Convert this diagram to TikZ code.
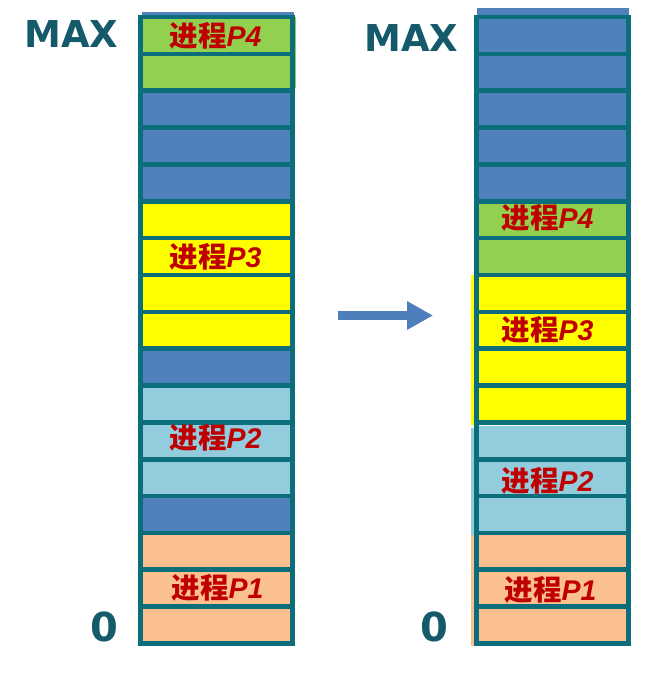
\documentclass[tikz,border=0pt]{standalone}
\usepackage{fontspec}
\usetikzlibrary{arrows.meta}
\newfontfamily\cjk{Noto Sans CJK SC}
\newfontfamily\latb{Liberation Sans}
\newfontfamily\maxf{DejaVu Sans}
\definecolor{cb}{HTML}{4F81BD}
\definecolor{cg}{HTML}{92D050}
\definecolor{cy}{HTML}{FFFF00}
\definecolor{cl}{HTML}{93CDDD}
\definecolor{co}{HTML}{FAC090}
\definecolor{teal0}{HTML}{0C6E7A}
\definecolor{dteal}{HTML}{155A6A}
\definecolor{red0}{HTML}{C00000}
\definecolor{arr}{HTML}{4F7EBD}
\begin{document}
\begin{tikzpicture}[x=1pt,y=-1pt,
  cell/.style={draw=teal0, line width=4.6pt, minimum width=152pt, minimum height=36.85pt, inner sep=0pt, outer sep=0pt},
  lbl/.style={text=red0, font=\cjk\bfseries\fontsize{28.5}{28.5}\selectfont, inner sep=0pt},
  axislbl/.style={text=dteal, font=\maxf\bfseries\fontsize{37}{37}\selectfont, inner sep=0pt},
  zerolbl/.style={text=dteal, font=\maxf\bfseries\fontsize{40}{40}\selectfont, inner sep=0pt}]
\useasboundingbox (0,0) rectangle (657,675);
% small artefact strips
\fill[cb] (142,12) rectangle (294,16);
\fill[cb] (477,8) rectangle (629,16);
\fill[cg] (293,17) rectangle (296,88);
\fill[cy] (471,275) rectangle (476,425);
\fill[cl] (471,428) rectangle (476,535);
\fill[co] (471,535) rectangle (476,646);
% left column
\foreach \c [count=\i] in {cg,cg,cb,cb,cb,cy,cy,cy,cy,cb,cl,cl,cl,cb,co,co,co}
  \node[cell, fill=\c] (L\i) at (216.5,{17+36.85*(\i-0.5)}) {};
% right column
\foreach \c [count=\i] in {cb,cb,cb,cb,cb,cg,cg,cy,cy,cy,cy,cl,cl,cl,co,co,co}
  \node[cell, fill=\c] (R\i) at (552.5,{17+36.85*(\i-0.5)}) {};
\fill[white] (479,424.9) rectangle (626,426.4);
% labels
\node[lbl] (tL4) at ([xshift=-1pt]L1) {进程{\latb\bfseries\itshape P4}};
\node[lbl] (tL3) at ([xshift=-1pt]L7) {进程{\latb\bfseries\itshape P3}};
\node[lbl] (tL2) at ([xshift=-1pt,yshift=3pt]L12) {进程{\latb\bfseries\itshape P2}};
\node[lbl] (tL1) at ([xshift=1pt]L16) {进程{\latb\bfseries\itshape P1}};
\node[lbl] (tR4) at ([xshift=-5pt,yshift=1.5pt]R6) {进程{\latb\bfseries\itshape P4}};
\node[lbl] (tR3) at ([xshift=-5pt]R9) {进程{\latb\bfseries\itshape P3}};
\node[lbl] (tR2) at ([xshift=-5pt,yshift=-3pt]R13) {进程{\latb\bfseries\itshape P2}};
\node[lbl] (tR1) at ([xshift=-2pt,yshift=-2pt]R16) {进程{\latb\bfseries\itshape P1}};
% axis labels
\node[axislbl] (maxL) at (71.5,34.5) {MAX};
\node[axislbl] (maxR) at (411.5,38) {MAX};
\node[zerolbl] (zL) at (104,627) {0};
\node[zerolbl] (zR) at (434,627) {0};
% arrow
\coordinate (a1) at (338,315.5);
\coordinate (a2) at (433,315.5);
\draw[arr, line width=9pt, -{Triangle[length=26pt,width=27pt]}] (a1) -- (a2);
\end{tikzpicture}
\end{document}
